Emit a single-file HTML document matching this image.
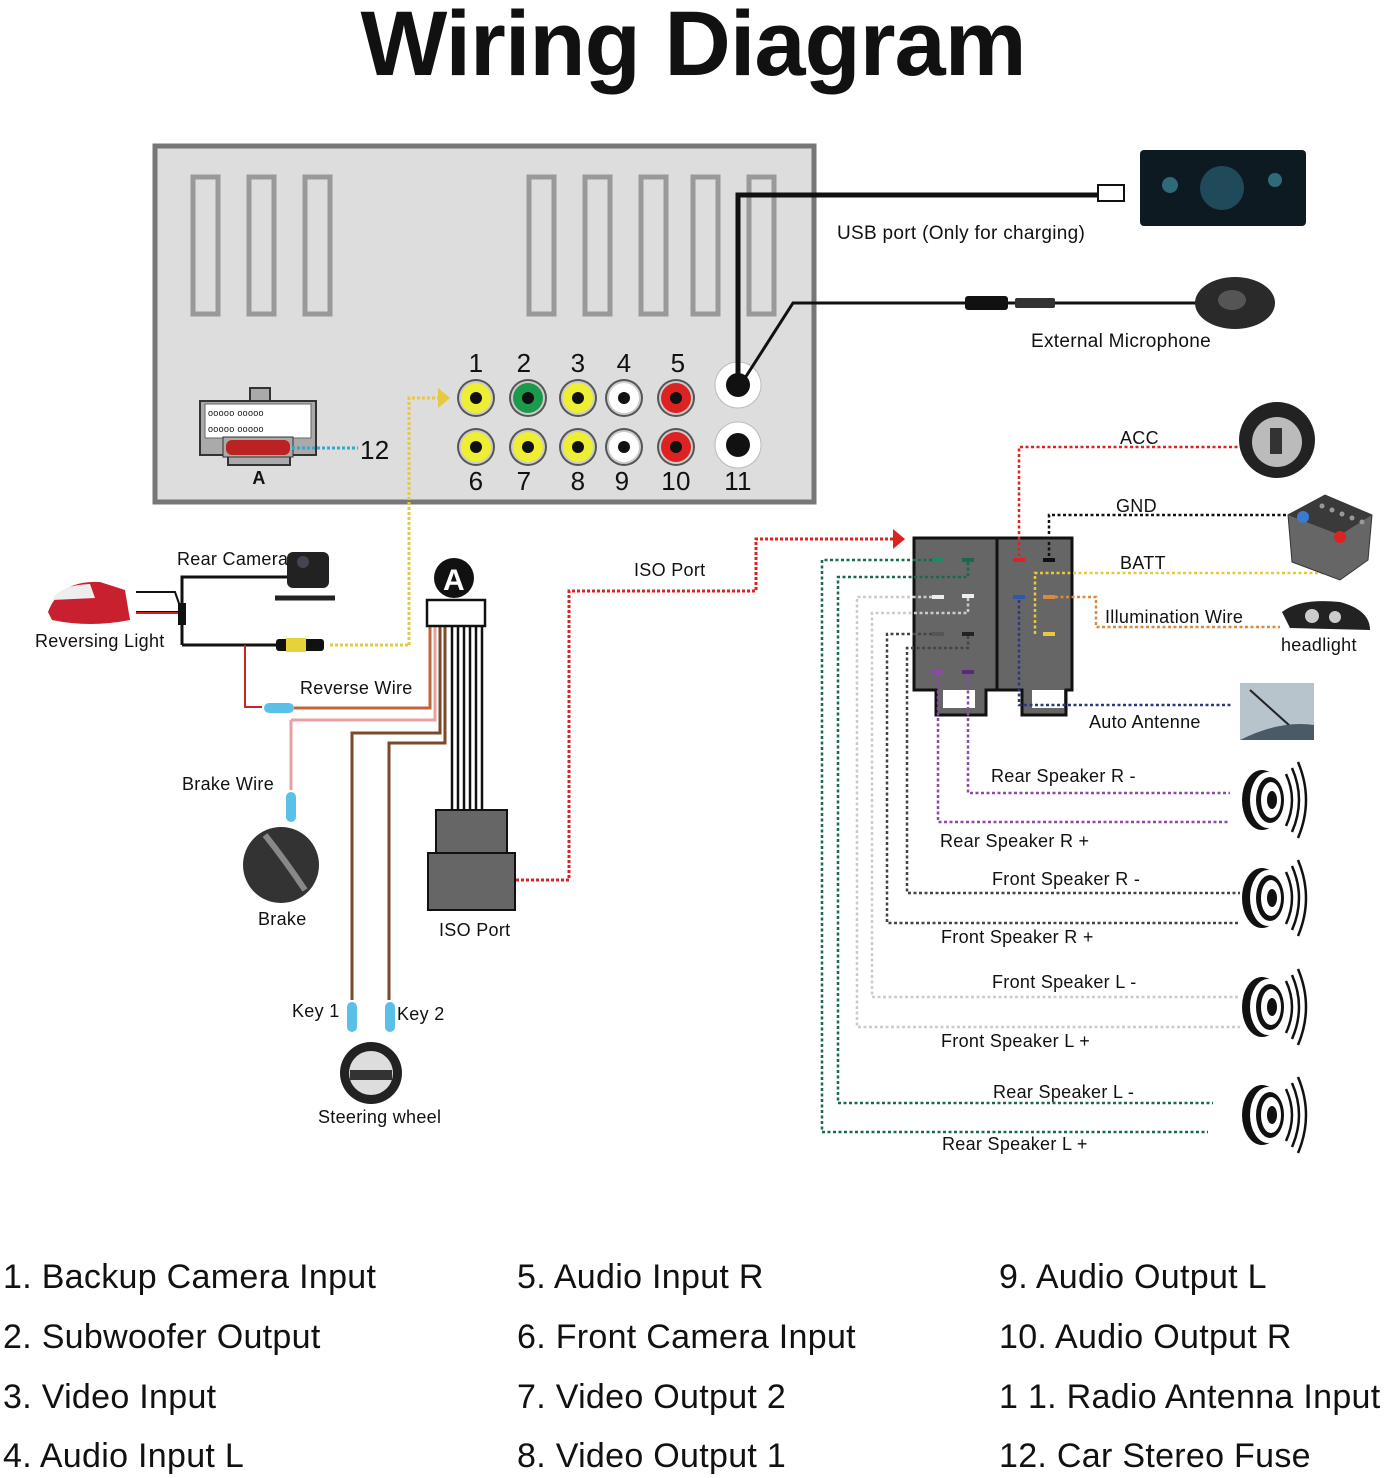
<!DOCTYPE html>
<html><head><meta charset="utf-8"><style>
html,body{margin:0;padding:0;background:#fff}
svg{display:block}
text{font-family:"Liberation Sans","DejaVu Sans",sans-serif;fill:#111;letter-spacing:0.3px}
</style></head><body>
<svg width="1390" height="1478" viewBox="0 0 1390 1478" xmlns="http://www.w3.org/2000/svg">
<defs>
<g id="spk">
<ellipse cx="0" cy="0" rx="20" ry="30" fill="#111"/>
<ellipse cx="6" cy="0" rx="18" ry="28" fill="#fff"/>
<ellipse cx="8" cy="0" rx="14" ry="23" fill="#111"/>
<ellipse cx="9" cy="0" rx="10" ry="18" fill="#fff"/>
<ellipse cx="10" cy="0" rx="5" ry="9" fill="#111"/>
<path d="M24,-26 Q36,0 24,26 M30,-32 Q44,0 30,32 M36,-38 Q52,0 36,38" stroke="#111" stroke-width="2.5" fill="none"/>
</g>
<g id="rca"><circle r="19" fill="#555"/><circle r="17" fill="#ccc"/><circle r="15" fill="currentColor"/><circle r="6" fill="#111"/></g>
</defs>

<text x="693" y="75" font-size="92" font-weight="bold" text-anchor="middle" style="letter-spacing:-1px">Wiring Diagram</text>

<!-- head unit -->
<rect x="155" y="146" width="659" height="356" fill="#ddd" stroke="#777" stroke-width="5"/>
<g fill="none" stroke="#999" stroke-width="5">
<rect x="193" y="177" width="25" height="137"/><rect x="249" y="177" width="25" height="137"/><rect x="305" y="177" width="25" height="137"/>
<rect x="529" y="177" width="25" height="137"/><rect x="585" y="177" width="25" height="137"/><rect x="641" y="177" width="25" height="137"/><rect x="693" y="177" width="25" height="137"/><rect x="749" y="177" width="25" height="137"/>
</g>
<!-- connector A -->
<rect x="250" y="388" width="20" height="14" fill="#aaa" stroke="#333" stroke-width="2"/>
<path d="M200,401 H316 V455 H290 V465 H228 V455 H200 Z" fill="#aaa" stroke="#333" stroke-width="2"/>
<rect x="205" y="404" width="106" height="34" fill="#fff" stroke="#666"/>
<text x="208" y="416" font-size="9">ooooo ooooo</text>
<text x="208" y="432" font-size="9">ooooo ooooo</text>
<rect x="223" y="437" width="70" height="20" fill="#aaa" stroke="#333"/>
<rect x="226" y="440" width="64" height="15" rx="6" fill="#b22"/>
<line x1="292" y1="448" x2="358" y2="448" stroke="#3ac" stroke-width="3" stroke-dasharray="3,2"/>
<text x="360" y="459" font-size="26">12</text>
<text x="259" y="484" font-size="18" font-weight="bold" text-anchor="middle">A</text>
<!-- RCA -->
<g font-size="26" text-anchor="middle">
<text x="476" y="372">1</text><text x="524" y="372">2</text><text x="578" y="372">3</text><text x="624" y="372">4</text><text x="678" y="372">5</text>
<text x="476" y="490">6</text><text x="524" y="490">7</text><text x="578" y="490">8</text><text x="622" y="490">9</text><text x="676" y="490">10</text><text x="738" y="490">11</text>
</g>
<use href="#rca" x="476" y="398" style="color:#ee3"/><use href="#rca" x="528" y="398" style="color:#1a9a4a"/><use href="#rca" x="578" y="398" style="color:#ee3"/><use href="#rca" x="624" y="398" style="color:#fff"/><use href="#rca" x="676" y="398" style="color:#d22"/>
<use href="#rca" x="476" y="447" style="color:#ee3"/><use href="#rca" x="528" y="447" style="color:#ee3"/><use href="#rca" x="578" y="447" style="color:#ee3"/><use href="#rca" x="624" y="447" style="color:#fff"/><use href="#rca" x="676" y="447" style="color:#d22"/>
<circle cx="738" cy="385" r="23" fill="#fff" stroke="#bbb"/><circle cx="738" cy="385" r="12" fill="#111"/>
<circle cx="738" cy="445" r="23" fill="#fff" stroke="#bbb"/><circle cx="738" cy="445" r="12" fill="#111"/>
<path d="M409,645 V398 H440" fill="none" stroke="#e8c840" stroke-width="3" stroke-dasharray="3,2"/>
<path d="M438,388 L450,398 L438,408 Z" fill="#e8c840"/>
<path d="M330,645 H409" stroke="#e8c840" stroke-width="3" stroke-dasharray="3,2"/>

<!-- USB -->
<path d="M738,385 V195 H1100" fill="none" stroke="#111" stroke-width="5"/>
<rect x="1098" y="185" width="26" height="16" fill="#fff" stroke="#111" stroke-width="2"/>
<rect x="1140" y="150" width="166" height="76" rx="4" fill="#0d1a22"/>
<circle cx="1222" cy="188" r="22" fill="#1e4a5a"/><circle cx="1170" cy="185" r="8" fill="#2e6a7a"/><circle cx="1275" cy="180" r="7" fill="#2e6a7a"/>
<text x="837" y="239" font-size="19">USB port (Only for charging)</text>
<!-- mic -->
<path d="M745,378 L793,303 H1200" fill="none" stroke="#111" stroke-width="3"/>
<rect x="965" y="296" width="43" height="14" rx="3" fill="#111"/>
<rect x="1015" y="298" width="40" height="10" rx="2" fill="#333"/>
<ellipse cx="1235" cy="303" rx="40" ry="26" fill="#2a2a2a"/><ellipse cx="1232" cy="300" rx="14" ry="10" fill="#555"/>
<text x="1031" y="347" font-size="19">External Microphone</text>

<!-- left harness -->
<path d="M48,612 Q60,580 100,582 L125,590 L130,620 Q90,628 52,620 Z" fill="#c8202e"/>
<path d="M52,600 Q60,585 90,584 L95,598 Z" fill="#eee"/>
<path d="M136,592 H175 L182,612 M136,612 H180" fill="none" stroke="#111" stroke-width="2"/>
<path d="M136,613 H180" stroke="#c22" stroke-width="2"/>
<rect x="178" y="603" width="8" height="22" fill="#111"/>
<path d="M182,645 V577 H290" fill="none" stroke="#111" stroke-width="3"/>
<path d="M182,645 H280" fill="none" stroke="#111" stroke-width="3"/>
<rect x="287" y="552" width="42" height="36" rx="6" fill="#222"/><circle cx="303" cy="562" r="6" fill="#445"/>
<path d="M275,598 L335,598" stroke="#222" stroke-width="5"/>
<rect x="276" y="639" width="48" height="12" rx="3" fill="#111"/><rect x="286" y="638" width="20" height="14" fill="#e6d33a"/>
<text x="177" y="565" font-size="18">Rear Camera</text>
<text x="35" y="647" font-size="18">Reversing Light</text>
<path d="M245,645 V707 H262" fill="none" stroke="#c22" stroke-width="2"/>
<rect x="264" y="703" width="30" height="10" rx="5" fill="#5bc0e8"/>
<text x="300" y="694" font-size="18">Reverse Wire</text>
<path d="M294,708 H430 V625" fill="none" stroke="#c0643a" stroke-width="3"/>
<path d="M291,720 V790 M291,720 H435 V625" fill="none" stroke="#e9a0a0" stroke-width="3"/>
<path d="M352,1000 V733 H440 V625" fill="none" stroke="#7a4a2a" stroke-width="3"/>
<path d="M389,1000 V743 H445 V625" fill="none" stroke="#7a4a2a" stroke-width="3"/>
<g stroke="#111" stroke-width="2.5"><line x1="452" y1="625" x2="452" y2="810"/><line x1="458" y1="625" x2="458" y2="810"/><line x1="464" y1="625" x2="464" y2="810"/><line x1="470" y1="625" x2="470" y2="810"/><line x1="476" y1="625" x2="476" y2="810"/><line x1="482" y1="625" x2="482" y2="810"/></g>
<rect x="427" y="600" width="58" height="26" fill="#fff" stroke="#111" stroke-width="2.5"/>
<circle cx="454" cy="578" r="20" fill="#111"/><text x="454" y="590" font-size="30" font-weight="bold" text-anchor="middle" style="fill:#fff">A</text>
<rect x="436" y="810" width="71" height="45" fill="#666" stroke="#111" stroke-width="2"/>
<rect x="428" y="853" width="87" height="57" fill="#666" stroke="#111" stroke-width="2"/>
<text x="439" y="936" font-size="18">ISO Port</text>
<rect x="286" y="792" width="10" height="30" rx="5" fill="#5bc0e8"/>
<text x="182" y="790" font-size="18">Brake Wire</text>
<circle cx="281" cy="865" r="38" fill="#333"/><path d="M265,835 Q285,860 305,890" stroke="#888" stroke-width="6" fill="none"/>
<text x="258" y="925" font-size="18">Brake</text>
<rect x="347" y="1002" width="10" height="30" rx="5" fill="#5bc0e8"/>
<rect x="385" y="1002" width="10" height="30" rx="5" fill="#5bc0e8"/>
<text x="292" y="1017" font-size="18">Key 1</text><text x="397" y="1020" font-size="18">Key 2</text>
<circle cx="371" cy="1073" r="31" fill="#222"/><circle cx="371" cy="1073" r="22" fill="#ddd"/><rect x="350" y="1070" width="42" height="10" fill="#333"/>
<text x="318" y="1123" font-size="18">Steering wheel</text>

<path d="M516,880 H569 V591 H756 V539 H894" fill="none" stroke="#d22" stroke-width="3" stroke-dasharray="3,2"/>
<path d="M893,529 L905,539 L893,549 Z" fill="#d22"/>
<text x="634" y="576" font-size="18">ISO Port</text>

<!-- ISO block -->
<path d="M914,538 H1072 V690 H1066 V715 H1022 V690 H986 V715 H936 V690 H914 Z" fill="#666" stroke="#111" stroke-width="3"/>
<line x1="997" y1="538" x2="997" y2="690" stroke="#111" stroke-width="3"/>
<rect x="943" y="690" width="32" height="18" fill="#fff"/><rect x="1032" y="690" width="32" height="18" fill="#fff"/>
<g stroke-width="4">
<line x1="932" y1="560" x2="944" y2="560" stroke="#1a8a6a"/><line x1="962" y1="560" x2="974" y2="560" stroke="#1a6a4a"/>
<line x1="932" y1="597" x2="944" y2="597" stroke="#eee"/><line x1="962" y1="596" x2="974" y2="596" stroke="#eee"/>
<line x1="932" y1="634" x2="944" y2="634" stroke="#555"/><line x1="962" y1="634" x2="974" y2="634" stroke="#222"/>
<line x1="932" y1="672" x2="944" y2="672" stroke="#8a4aa8"/><line x1="962" y1="672" x2="974" y2="672" stroke="#5a2a78"/>
<line x1="1013" y1="560" x2="1025" y2="560" stroke="#d22"/><line x1="1043" y1="560" x2="1055" y2="560" stroke="#111"/>
<line x1="1013" y1="597" x2="1025" y2="597" stroke="#2a5ab0"/><line x1="1043" y1="597" x2="1055" y2="597" stroke="#d88a40"/>
<line x1="1043" y1="634" x2="1055" y2="634" stroke="#e8c840"/>
</g>
<g fill="none" stroke-width="2.5" stroke-dasharray="3,2.5">
<path d="M1019,556 V447 H1240" stroke="#d22"/>
<path d="M1049,556 V515 H1295" stroke="#111"/>
<path d="M1035,634 V573 H1340 V540" stroke="#e8c840"/>
<path d="M1055,597 H1096 V627 H1280" stroke="#d88a40"/>
<path d="M1019,600 V705 H1232" stroke="#2a3a80"/>
<path d="M932,560 H822 V1132 H1208" stroke="#1a6a4a"/>
<path d="M968,562 V577 H838 V1103 H1213" stroke="#1a6a4a"/>
<path d="M932,597 H857 V1027 H1240" stroke="#ccc"/>
<path d="M968,598 V613 H872 V997 H1240" stroke="#ccc"/>
<path d="M932,634 H887 V923 H1240" stroke="#444"/>
<path d="M968,636 V648 H907 V893 H1240" stroke="#444"/>
<path d="M938,674 V822 H1230" stroke="#8a4aa8"/>
<path d="M968,674 V793 H1230" stroke="#8a4aa8"/>
</g>
<text x="1120" y="444" font-size="18">ACC</text>
<text x="1116" y="512" font-size="18">GND</text>
<text x="1120" y="569" font-size="18">BATT</text>
<text x="1105" y="623" font-size="18">Illumination Wire</text>
<text x="1281" y="651" font-size="18">headlight</text>
<text x="1089" y="728" font-size="18">Auto Antenne</text>
<text x="991" y="782" font-size="18">Rear Speaker R  -</text>
<text x="940" y="847" font-size="18">Rear Speaker R  +</text>
<text x="992" y="885" font-size="18">Front Speaker R  -</text>
<text x="941" y="943" font-size="18">Front Speaker R  +</text>
<text x="992" y="988" font-size="18">Front Speaker L -</text>
<text x="941" y="1047" font-size="18">Front Speaker L +</text>
<text x="993" y="1098" font-size="18">Rear Speaker L  -</text>
<text x="942" y="1150" font-size="18">Rear Speaker L  +</text>
<!-- ignition -->
<circle cx="1277" cy="440" r="38" fill="#222"/><circle cx="1277" cy="442" r="25" fill="#bbb"/><rect x="1270" y="428" width="12" height="26" fill="#333"/>
<!-- battery -->
<path d="M1288,515 L1325,495 L1372,515 L1368,560 L1340,580 L1292,562 Z" fill="#666" stroke="#333"/>
<path d="M1288,515 L1325,495 L1372,515 L1340,535 Z" fill="#3a3a3a"/>
<circle cx="1303" cy="517" r="6" fill="#3a7ad0"/><circle cx="1340" cy="537" r="6" fill="#d22"/>
<g fill="#999"><circle cx="1322" cy="506" r="2.5"/><circle cx="1332" cy="510" r="2.5"/><circle cx="1342" cy="514" r="2.5"/><circle cx="1352" cy="518" r="2.5"/><circle cx="1362" cy="522" r="2.5"/></g>
<!-- headlight -->
<path d="M1282,612 Q1300,598 1340,602 Q1370,610 1370,630 L1290,628 Z" fill="#222"/>
<circle cx="1312" cy="616" r="7" fill="#ccc"/><circle cx="1335" cy="617" r="6" fill="#ccc"/>
<!-- antenna -->
<rect x="1240" y="683" width="74" height="57" fill="#b8c4cc"/>
<path d="M1250,690 L1300,735" stroke="#222" stroke-width="2"/>
<path d="M1240,740 Q1280,720 1314,725 V740 Z" fill="#4a5a66"/>
<use href="#spk" x="1262" y="800"/>
<use href="#spk" x="1262" y="898"/>
<use href="#spk" x="1262" y="1007"/>
<use href="#spk" x="1262" y="1115"/>

<g font-size="34" style="letter-spacing:0.5px">
<text x="3" y="1288">1. Backup Camera Input</text>
<text x="3" y="1348">2. Subwoofer Output</text>
<text x="3" y="1408">3. Video Input</text>
<text x="3" y="1467">4. Audio Input L</text>
<text x="517" y="1288">5. Audio Input R</text>
<text x="517" y="1348">6. Front Camera Input</text>
<text x="517" y="1408">7. Video Output 2</text>
<text x="517" y="1467">8. Video Output 1</text>
<text x="999" y="1288">9. Audio Output L</text>
<text x="999" y="1348">10. Audio Output R</text>
<text x="999" y="1408">1 1. Radio Antenna Input</text>
<text x="999" y="1467">12. Car Stereo Fuse</text>
</g>
</svg>
</body></html>
